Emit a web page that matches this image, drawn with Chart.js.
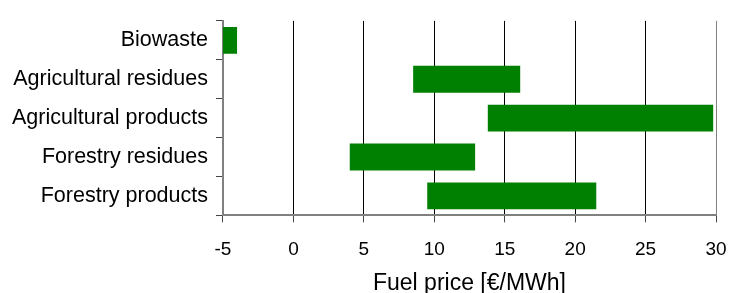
<!DOCTYPE html>
<html>
<head>
<meta charset="utf-8">
<script src="https://cdn.jsdelivr.net/npm/chart.js@4"></script>
<style>
	html, body { margin: 0; padding: 0; background: #fff; }
	#wrap { width: 730px; height: 293px; }
</style>
</head>
<body>
<div id="wrap"><canvas id="chart"></canvas></div>
<script>
// Categories, top to bottom.
const categories = ["Biowaste", "Agricultural residues", "Agricultural products", "Forestry residues", "Forestry products"];
// Price range of each fuel, low and high end [€/MWh].
const priceLow = [-5, 8.5, 13.8, 4, 9.5];
const priceHigh = [-4, 16.1, 29.8, 12.9, 21.5];
// Axis ticks.
const xTicks = [-5, 0, 5, 10, 15, 20, 25, 30];
const axisTitle = "Fuel price [€/MWh]";

const font = "'Liberation Sans', Arial, sans-serif";

const ranges = priceLow.map((low, i) => [low, priceHigh[i]]);

const canvas = document.querySelector('#chart').getContext('2d');
const chart = new Chart(canvas, {
	type: 'bar',
	data: {
		labels: categories,
		datasets: [{
			data: ranges,
			backgroundColor: '#008000',
			borderWidth: 0,
			categoryPercentage: 1,
			barPercentage: 0.69
		}]
	},
	options: {
		indexAxis: 'y',
		responsive: true,
		maintainAspectRatio: false,
		animation: false,
		layout: { padding: { top: 19, right: 14, left: 4, bottom: 0 } },
		plugins: { legend: { display: false }, tooltip: { enabled: false } },
		scales: {
			x: {
				min: xTicks[0],
				max: xTicks[xTicks.length - 1],
				afterBuildTicks: axis => { axis.ticks = xTicks.map(v => ({ value: v })); },
				// The "30" label may overhang the right edge, as in the original.
				afterFit: axis => { axis.paddingRight = 0; },
				grid: {
					color: ctx => ctx.index === xTicks.length - 1 ? '#808080' : '#000',
					lineWidth: 1,
					tickLength: 7,
					tickColor: '#444'
				},
				border: { color: '#808080', width: 2 },
				ticks: { color: '#000', font: { family: font, size: 19 }, padding: 16 },
				title: { display: true, text: axisTitle, color: '#000', font: { family: font, size: 23 }, padding: { top: -7.7, bottom: -4 } }
			},
			y: {
				grid: { drawOnChartArea: false, offset: true, tickLength: 7, color: '#444' },
				border: { color: '#808080', width: 2 },
				ticks: { color: '#000', font: { family: font, size: 21.5 }, padding: 8 }
			}
		}
	}
});
</script>
</body>
</html>
